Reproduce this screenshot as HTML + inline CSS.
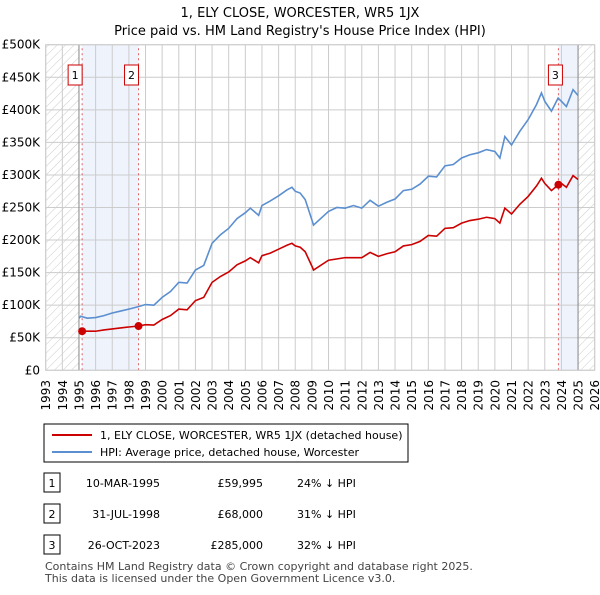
<!DOCTYPE html>
<html><head><meta charset="utf-8"><style>
body{margin:0;background:#fff;font-family:"Liberation Sans",sans-serif}
svg text{font-family:"DejaVu Sans","Liberation Sans",sans-serif}
</style></head><body>
<svg id="c" width="600" height="590" xmlns="http://www.w3.org/2000/svg">
<defs><pattern id="h" width="6" height="6" patternUnits="userSpaceOnUse" patternTransform="rotate(45)"><line x1="0" y1="0" x2="0" y2="6" stroke="#ccc" stroke-width="1"/></pattern></defs>
<text x="300" y="17" text-anchor="middle" font-size="13">1, ELY CLOSE, WORCESTER, WR5 1JX</text>
<text x="300" y="35" text-anchor="middle" font-size="13">Price paid vs. HM Land Registry's House Price Index (HPI)</text>
<g id="plot"></g>
<rect x="44" y="424" width="364" height="38" fill="#fff" stroke="#000"/>
<line x1="52" y1="435" x2="92" y2="435" stroke="#cc0000" stroke-width="2"/>
<text x="100" y="439" font-size="11">1, ELY CLOSE, WORCESTER, WR5 1JX (detached house)</text>
<line x1="52" y1="452" x2="92" y2="452" stroke="#5b8fd0" stroke-width="2"/>
<text x="100" y="456" font-size="11">HPI: Average price, detached house, Worcester</text>
<g id="tbl" font-size="11"></g>
<text x="45" y="570" font-size="11" fill="#444">Contains HM Land Registry data © Crown copyright and database right 2025.</text>
<text x="45" y="582" font-size="11" fill="#444">This data is licensed under the Open Government Licence v3.0.</text>
</svg>
<script>
const hpiYears=[1995,1995.1,1995.5,1996,1996.5,1997,1997.5,1998,1998.6,1999,1999.5,2000,2000.5,2001,2001.5,2002,2002.5,2003,2003.5,2004,2004.5,2005,2005.3,2005.8,2006,2006.5,2007,2007.5,2007.8,2008,2008.3,2008.6,2009,2009.1,2010,2010.5,2011,2011.5,2012,2012.5,2013,2013.5,2014,2014.5,2015,2015.5,2016,2016.5,2017,2017.5,2018,2018.5,2019,2019.5,2020,2020.3,2020.6,2021,2021.5,2022,2022.5,2022.8,2023,2023.4,2023.8,2024,2024.3,2024.7,2025];
const hpiValues=[80,83,80,81,84,88,91,94,98,101,100,112,121,135,134,154,161,195,208,218,233,242,249,238,253,260,268,277,281,275,272,262,231,223,244,250,249,253,249,261,252,258,263,276,278,286,298,297,314,316,326,331,334,339,336,326,359,346,367,385,408,426,413,398,418,413,405,431,422];
const priceYears=[1995.19,1995.5,1996,1996.5,1997,1997.5,1998,1998.58,1999,1999.5,2000,2000.5,2001,2001.5,2002,2002.5,2003,2003.5,2004,2004.5,2005,2005.3,2005.8,2006,2006.5,2007,2007.5,2007.8,2008,2008.3,2008.6,2009,2009.1,2010,2011,2012,2012.5,2013,2013.5,2014,2014.5,2015,2015.5,2016,2016.5,2017,2017.5,2018,2018.5,2019,2019.5,2020,2020.3,2020.6,2021,2021.5,2022,2022.5,2022.8,2023,2023.4,2023.82,2024,2024.3,2024.7,2025];
const priceValues=[60,60,60,62,63.5,65,66.5,68,70,69.5,78,84,94,93,107,112,135,144,151,162,168,173,165,176,180,186,192,195,191,189,182,160,154,169,173,173,181,175,179,182,191,193,198,207,206,218,219,226,230,232,235,233,226,249,240,255,267,283,295,287,276,285,287,281,299,293];
const saleYears=[1995.19,1998.58,2023.82];
const saleValues=[59995,68000,285000];
const saleDates=["10-MAR-1995","31-JUL-1998","26-OCT-2023"];
const salePrices=["£59,995","£68,000","£285,000"];
const saleHpi=["24% ↓ HPI","31% ↓ HPI","32% ↓ HPI"];
const yTicks=[0,50,100,150,200,250,300,350,400,450,500];
const yTickLabels=["£0","£50K","£100K","£150K","£200K","£250K","£300K","£350K","£400K","£450K","£500K"];
const xTicks=[];for(let y=1993;y<=2026;y++)xTicks.push(y);

const NS="http://www.w3.org/2000/svg";
const X=y=>45.7+(y-1993)*16.636, Y=v=>370.3-v*0.6512;
const g=document.getElementById('plot');
function mk(t,a,p){const e=document.createElementNS(NS,t);for(const k in a)e.setAttribute(k,a[k]);(p||g).appendChild(e);return e;}
let e;
e=mk('rect',{x:X(saleYears[0]),y:Y(500),width:X(saleYears[1])-X(saleYears[0]),height:Y(0)-Y(500),fill:'#eef3fc'});


e=mk('rect',{x:X(saleYears[2]),y:Y(500),width:X(2025)-X(saleYears[2]),height:Y(0)-Y(500),fill:'#eef3fc'});


e=mk('rect',{x:X(1993),y:Y(500),width:X(1995)-X(1993),height:Y(0)-Y(500),fill:'url(#h)'});


e=mk('rect',{x:X(2025),y:Y(500),width:X(2026)-X(2025),height:Y(0)-Y(500),fill:'url(#h)'});


xTicks.forEach(t=>{
 e=mk('line',{x1:X(t),x2:X(t),y1:Y(0),y2:Y(500),stroke:'#ccc'});
 
 
 const tx=X(t)+4.5, ty=380;
 e=mk('text',{x:tx,y:ty,'text-anchor':'end','font-size':12,transform:'rotate(-90 '+tx+' '+ty+')'});e.textContent=t;
 
 
});
yTicks.forEach((t,i)=>{
 e=mk('line',{x1:X(1993),x2:X(2026),y1:Y(t),y2:Y(t),stroke:'#ccc'});
 
 
 e=mk('text',{x:40,y:Y(t)+4,'text-anchor':'end','font-size':12});e.textContent=yTickLabels[i];
 
 
});
e=mk('line',{x1:X(1995),x2:X(1995),y1:Y(0),y2:Y(500),stroke:'#888'});


e=mk('line',{x1:X(2025),x2:X(2025),y1:Y(0),y2:Y(500),stroke:'#888'});


saleYears.forEach((s,i)=>{
 e=mk('line',{x1:X(s),x2:X(s),y1:Y(0),y2:Y(500),stroke:'#e06060','stroke-dasharray':'2,3'});
 
 
});
e=mk('polyline',{points:hpiYears.map((y,i)=>X(y)+','+Y(hpiValues[i])).join(' '),fill:'none',stroke:'#5b8fd0','stroke-width':1.6});


e=mk('polyline',{points:priceYears.map((y,i)=>X(y)+','+Y(priceValues[i])).join(' '),fill:'none',stroke:'#cc0000','stroke-width':1.6});


saleYears.forEach((s,i)=>{
 e=mk('circle',{cx:X(s),cy:Y(saleValues[i]/1000),r:4,fill:'#cc0000'});
 
 
 const bx=X(s)-(i==2?3:7);
 e=mk('rect',{x:bx-7,y:65,width:14,height:20,fill:'#fff',stroke:'#cc0000'});
 
 
 e=mk('text',{x:bx,y:79,'text-anchor':'middle','font-size':11});e.textContent=i+1;
 
 
});
const tb=document.getElementById('tbl');
saleYears.forEach((s,i)=>{
 const cy=483+i*31;
 e=mk('rect',{x:44,y:cy-10,width:16,height:19,fill:'#fff',stroke:'#000'},tb);
 
 
 e=mk('text',{x:52,y:cy+4,'text-anchor':'middle'},tb);e.textContent=i+1;
 
 
 e=mk('text',{x:160,y:cy+4,'text-anchor':'end'},tb);e.textContent=saleDates[i];
 
 
 e=mk('text',{x:263,y:cy+4,'text-anchor':'end'},tb);e.textContent=salePrices[i];
 
 
 e=mk('text',{x:297,y:cy+4},tb);e.textContent=saleHpi[i];
 
 
});
e=mk('rect',{x:X(1993),y:Y(500),width:X(2026)-X(1993),height:Y(0)-Y(500),fill:'none',stroke:'#ccc'});


</script>
</body></html>
